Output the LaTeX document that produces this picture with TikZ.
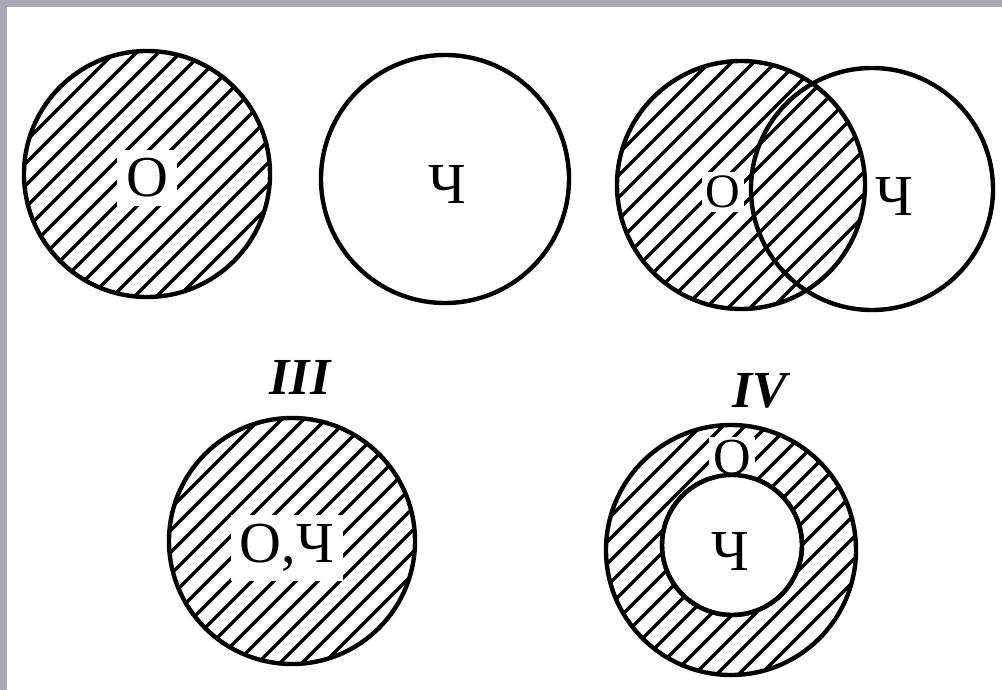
\documentclass[tikz,border=0pt]{standalone}
\usepackage{fontspec}
\setmainfont{Liberation Serif}
\definecolor{slide}{RGB}{168,168,186}
\tikzset{
  ring/.style={circle,draw=black,line width=4.4pt,inner sep=0pt},
  hatchline/.style={line width=3.2pt,black},
  lbl/.style={inner sep=0pt,font=\fontsize{58}{58}\selectfont},
  lblw/.style={lbl,fill=white,inner sep=9pt},
  num/.style={inner sep=0pt,font=\fontsize{52}{52}\selectfont\bfseries\itshape}
}
\newcommand\myhatch[3]{%
  \begin{scope}
    \clip (#1,#2) circle (#3);
    \foreach \k in {-14,...,14}
      \draw[hatchline,shift={(#1,#2)}] (\k*22-160,160) -- (\k*22+160,-160);
  \end{scope}}
\begin{document}
\begin{tikzpicture}[x=1pt,y=-1pt]
\useasboundingbox (0,0) rectangle (1002,690);
\fill[white] (0,0) rectangle (1002,690);
\fill[slide] (0,0) rectangle (1002,7);
\fill[slide] (0,0) rectangle (7,690);

% I: O hatched
\myhatch{147}{174}{123}
\node[lblw] (o1) at (147,178) {О};
\node[ring,minimum size=246pt] (c1) at (147,174) {};

% II: Ch
\node[ring,minimum size=248pt] (c2) at (445,179) {};
\node[lbl] (ch2) at (447,185) {Ч};

% top right: overlap
\myhatch{741}{185}{124}
\node[lblw,inner sep=4pt,font=\fontsize{48}{48}\selectfont] (o3) at (723,192) {О};
\node[ring,minimum size=248pt] (c3o) at (741,185) {};
\node[ring,minimum size=242pt] (c3c) at (872,189) {};
\node[lbl] (ch3) at (894,197) {Ч};

% III
\node[num] (n3) at (300,377) {III};
\myhatch{292}{541}{123}
\node[lblw] (oc3) at (287,548) {О,Ч};
\node[ring,minimum size=246pt] (c4) at (292,541) {};

% IV
\node[num] (n4) at (760,391) {IV};
\myhatch{731}{550}{125}
\node[ring,fill=white,minimum size=140pt] (c5i) at (732,545) {};
\node[lbl,fill=white,inner sep=4pt,font=\fontsize{52}{52}\selectfont] (o5) at (732,458) {О};
\node[ring,minimum size=250pt] (c5o) at (731,550) {};
\node[ring,minimum size=140pt] (c5i2) at (732,545) {};
\node[lbl] (ch5) at (730,552) {Ч};
\end{tikzpicture}
\end{document}
